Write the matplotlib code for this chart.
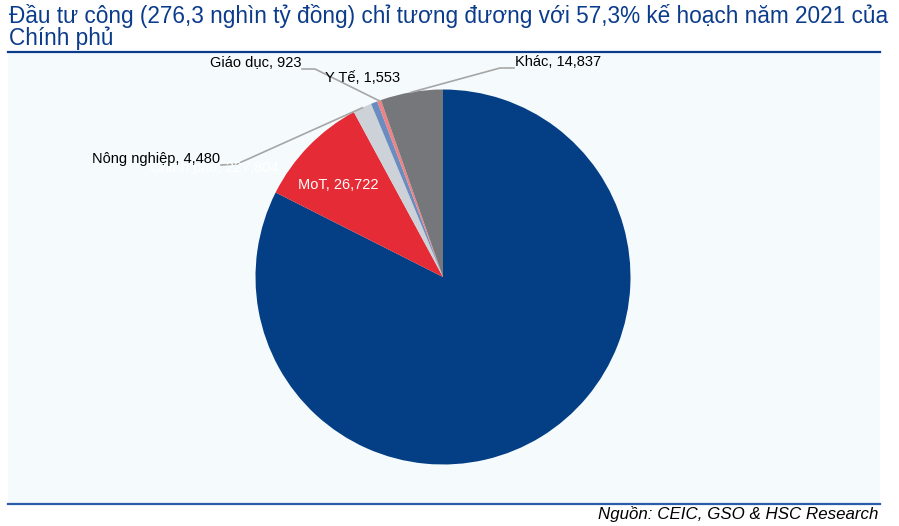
import matplotlib
matplotlib.use("Agg")
import matplotlib.pyplot as plt
from matplotlib.lines import Line2D
import numpy as np

plt.rcParams['font.family'] = ['Liberation Sans', 'DejaVu Sans']

# du lieu (ty dong), theo chieu kim dong ho tu 12 gio
sectors = ["Chính phủ", "MoT", "Nông nghiệp", "Y Tế", "Giáo dục", "Khác"]
values = [227804, 26722, 4480, 1553, 923, 14837]
colors = ["#043F86", "#E52B35", "#CDD1D8", "#6A8CBE", "#EF8284", "#75777B"]

title_lines = ["Đầu tư công (276,3 nghìn tỷ đồng) chỉ tương đương với 57,3% kế hoạch năm 2021 của",
               "Chính phủ"]
source = "Nguồn: CEIC, GSO & HSC Research"

W, H = 899, 526
fig = plt.figure(figsize=(W / 100, H / 100), dpi=100)
fig.patch.set_facecolor("white")


def fx(px):
    return px / W


def fy(py):
    return 1 - py / H


# nen nhat cua vung bieu do + duong ke
bg = fig.add_axes([fx(8), fy(504), fx(880) - fx(8), fy(52) - fy(504)], zorder=0)
bg.set_facecolor("#F5FBFC")
bg.set_xticks([])
bg.set_yticks([])
for s in bg.spines.values():
    s.set_visible(False)

fig.lines.append(Line2D([fx(8), fx(880)], [fy(52), fy(52)], transform=fig.transFigure,
                        color="#0B3C8C", lw=1.6, zorder=3))
fig.lines.append(Line2D([fx(8), fx(880)], [fy(504), fy(504)], transform=fig.transFigure,
                        color="#2B5CA8", lw=1.6, zorder=3))

fig.text(fx(9), fy(23), title_lines[0], fontsize=16.3, color="#0B3C8C", ha="left", va="baseline")
fig.text(fx(9), fy(45), title_lines[1], fontsize=16.3, color="#0B3C8C", ha="left", va="baseline")
fig.text(fx(878), fy(519), source, fontsize=12.2, style="italic", color="black",
         ha="right", va="baseline")

# truc cho hinh tron
cx, cy, R = 443, 277, 187.5
ax = fig.add_axes([fx(cx - R), fy(cy + R), 2 * R / W, 2 * R / H], zorder=1)
ax.patch.set_alpha(0)
wedges, _ = ax.pie(values, colors=colors, startangle=90, counterclock=False,
                   wedgeprops=dict(linewidth=0))
ax.set_xlim(-1, 1)
ax.set_ylim(-1, 1)
ax.axis("off")


def edge_px(w):
    a = np.deg2rad((w.theta1 + w.theta2) / 2)
    return cx + R * np.cos(a), cy - R * np.sin(a)


def label(text, tx, ty, ha="left", color="black"):
    fig.text(fx(tx), fy(ty), text, fontsize=10.5, color=color, ha=ha, va="center", zorder=4)


def leader(pts):
    xs = [fx(p[0]) for p in pts]
    ys = [fy(p[1]) for p in pts]
    fig.lines.append(Line2D(xs, ys, transform=fig.transFigure, color="#A6A6A6", lw=1.2, zorder=3))


idx = {s: i for i, s in enumerate(sectors)}

# nhan
label("%s, %s" % (sectors[0], format(values[0], ",")), 150, 168, color="white")
label("%s, %s" % (sectors[1], format(values[1], ",")), 338, 185, ha="center", color="white")

label("%s, %s" % (sectors[2], format(values[2], ",")), 92, 159)
leader([(221, 165), (237, 164), edge_px(wedges[idx["Nông nghiệp"]])])

label("%s, %s" % (sectors[4], format(values[4], ",")), 210, 63)
leader([(302, 69), (315, 69), edge_px(wedges[idx["Giáo dục"]])])

label("%s, %s" % (sectors[3], format(values[3], ",")), 325, 78)

label("%s, %s" % (sectors[5], format(values[5], ",")), 515, 62)
leader([(514, 68), (500, 68), edge_px(wedges[idx["Khác"]])])

fig.savefig("out.png", dpi=100, facecolor="white")
